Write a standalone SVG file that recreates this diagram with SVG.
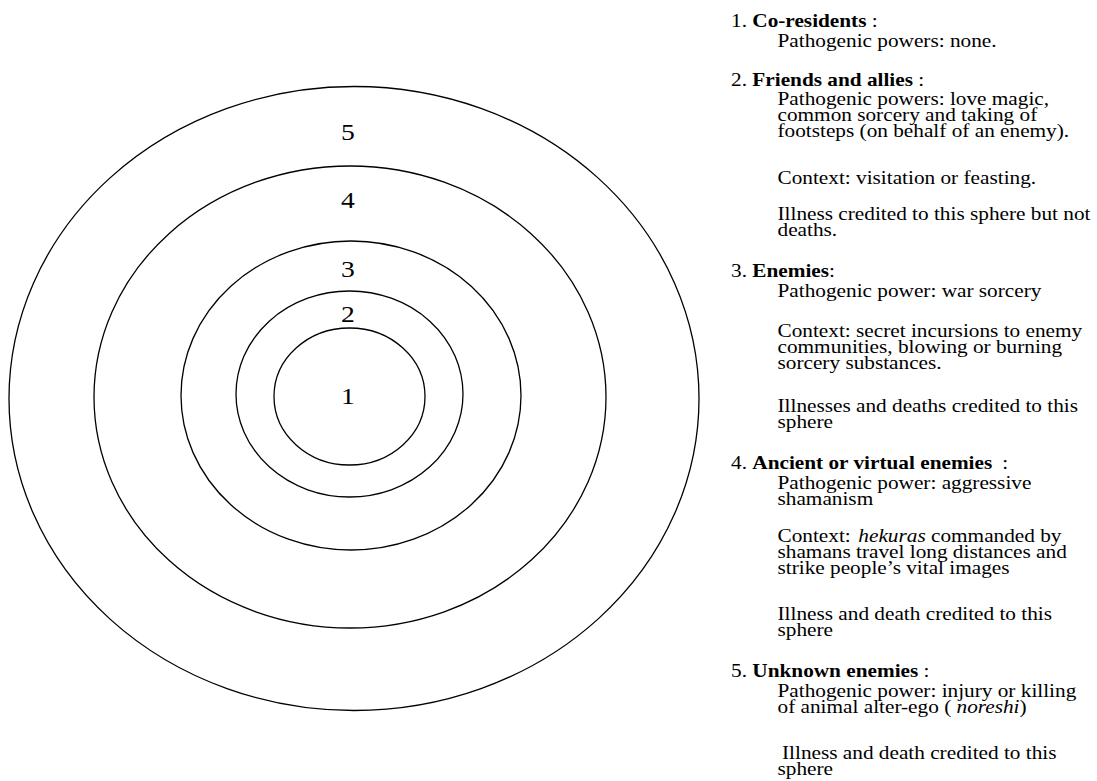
<svg xmlns="http://www.w3.org/2000/svg" width="1097" height="781" viewBox="0 0 1097 781">
<style>
.ring{fill:none;stroke:#000;stroke-width:1.3}
.lbl{font-family:"Liberation Serif","Times New Roman",serif;font-size:24px;fill:#000;text-anchor:middle}
.t{font-family:"Liberation Serif","Times New Roman",serif;font-size:18.5px;fill:#000}
.b{font-weight:bold}
.i{font-style:italic}
</style>
<rect width="1097" height="781" fill="#fff"/>
<g id="rings">
  <g id="ring5"><ellipse class="ring" cx="354" cy="398.5" rx="345" ry="312"/></g>
  <g id="ring4"><ellipse class="ring" cx="350" cy="397" rx="256" ry="231"/></g>
  <g id="ring3"><ellipse class="ring" cx="351" cy="395.5" rx="170" ry="154.5"/></g>
  <g id="ring2"><ellipse class="ring" cx="349.5" cy="394" rx="113.5" ry="103"/></g>
  <g id="ring1"><ellipse class="ring" cx="349.5" cy="396.5" rx="75.5" ry="68.5"/></g>
  <g id="ring-labels" transform="scale(1.15,1)">
    <text class="lbl" x="302.6" y="140">5</text>
    <text class="lbl" x="302.6" y="208">4</text>
    <text class="lbl" x="302.6" y="277">3</text>
    <text class="lbl" x="302.6" y="322.5">2</text>
    <text class="lbl" x="302.6" y="404">1</text>
  </g>
</g>
<g id="legend" class="t" transform="scale(1.15,1)">
  <g id="item1">
    <text x="635.7" y="27">1. <tspan class="b">Co-residents</tspan> :</text>
    <text x="676.1" y="47">Pathogenic powers: none.</text>
  </g>
  <g id="item2">
    <text x="635.7" y="86">2. <tspan class="b">Friends and allies</tspan> :</text>
    <text x="676.1" y="105.5">Pathogenic powers: love magic,</text>
    <text x="676.1" y="121.5">common sorcery and taking of</text>
    <text x="676.1" y="137.5">footsteps (on behalf of an enemy).</text>
    <text x="676.1" y="184">Context: visitation or feasting.</text>
    <text x="676.1" y="220">Illness credited to this sphere but not</text>
    <text x="676.1" y="236">deaths.</text>
  </g>
  <g id="item3">
    <text x="635.7" y="277">3. <tspan class="b">Enemies</tspan>:</text>
    <text x="676.1" y="297">Pathogenic power: war sorcery</text>
    <text x="676.1" y="337">Context: secret incursions to enemy</text>
    <text x="676.1" y="353">communities, blowing or burning</text>
    <text x="676.1" y="369">sorcery substances.</text>
    <text x="676.1" y="412">Illnesses and deaths credited to this</text>
    <text x="676.1" y="428">sphere</text>
  </g>
  <g id="item4">
    <text x="635.7" y="469">4. <tspan class="b">Ancient or virtual enemies</tspan><tspan dx="4"> :</tspan></text>
    <text x="676.1" y="489">Pathogenic power: aggressive</text>
    <text x="676.1" y="505">shamanism</text>
    <text x="676.1" y="542">Context: <tspan class="i" dx="2">hekuras</tspan> commanded by</text>
    <text x="676.1" y="558">shamans travel long distances and</text>
    <text x="676.1" y="574">strike people’s vital images</text>
    <text x="676.1" y="620">Illness and death credited to this</text>
    <text x="676.1" y="636">sphere</text>
  </g>
  <g id="item5">
    <text x="635.7" y="677">5. <tspan class="b">Unknown enemies</tspan> :</text>
    <text x="676.1" y="697">Pathogenic power: injury or killing</text>
    <text x="676.1" y="713">of animal alter-ego ( <tspan class="i">noreshi</tspan>)</text>
    <text x="680" y="759">Illness and death credited to this</text>
    <text x="676.1" y="775">sphere</text>
  </g>
</g>
</svg>
